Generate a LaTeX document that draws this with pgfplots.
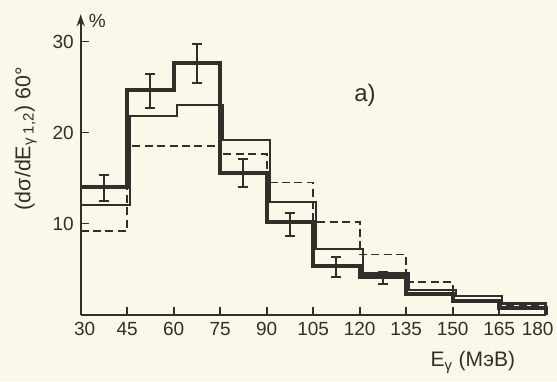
\documentclass[border=0pt]{standalone}
\usepackage{pgfplots}
\pgfplotsset{compat=1.18}
\usepackage{fontspec}
\setmainfont{Liberation Sans}
\usetikzlibrary{arrows.meta}
\definecolor{paper}{RGB}{250,248,232}
\definecolor{ink}{RGB}{50,46,42}
\begin{document}
\begin{tikzpicture}
\fill[paper] (-40.35pt,-33.25pt) rectangle (238.15pt,157.25pt);
\path[use as bounding box] (-40.35pt,-33.25pt) rectangle (238.15pt,157.25pt);
\begin{axis}[
  at={(0pt,0pt)}, anchor=south west,
  scale only axis, width=232.5pt, height=150.15pt,
  xmin=30, xmax=180, ymin=0, ymax=33,
  axis x line*=bottom, axis y line*=left,
  axis line style={ink, line width=1pt},
  y axis line style={-{Stealth[length=6pt,width=4pt]}},
  x axis line style={-},
  tick align=inside, major tick length=4pt,
  tick style={ink, line width=0.9pt},
  xtick={30,45,...,180}, ytick={10,20,30},
  xticklabels={{\rule{4pt}{0pt}30},45,60,75,90,105,120,135,150,165,{180\rule{8pt}{0pt}}},
  ticklabel style={font=\fontsize{9.5}{11}\selectfont, text=ink},
  xticklabel style={yshift=-0.5pt},
  /pgf/number format/assume math mode=true,
  clip=false,
]
% thick histogram
\addplot[const plot, ink, line width=2pt] coordinates {
 (30,14.0) (45,24.7) (60,27.6) (75,15.6) (90,10.2) (105,5.3)
 (120,4.1) (135,2.3) (150,1.5) (165,0.7) (180,0.7) (180,0)};
% thin histogram
\addplot[const plot, ink, line width=1.1pt] coordinates {
 (30,12.0) (46,21.8) (61,23.0) (76,19.2) (91,12.4) (106,7.2)
 (121,4.5) (136,2.7) (151,2.0) (166,1.2) (180,1.2) (180,0)};
% dashed histogram
\addplot[const plot, ink, line width=0.9pt, dash pattern=on 4pt off 2.2pt] coordinates {
 (30,9.2) (45,18.5) (60,18.5) (75,17.6) (90,14.5) (105,10.2)
 (120,6.6) (135,3.6) (150,2.0) (165,1.0) (180,1.0)};
% error bars
\addplot[draw=none, mark=none, error bars/.cd, y dir=both, y explicit,
  error bar style={ink, line width=1pt},
  error mark options={ink, line width=1pt, mark size=2.5pt, rotate=90}] coordinates {
 (37.5,13.9) +- (0,1.4)
 (52.5,24.55) +- (0,1.85)
 (67.5,27.55) +- (0,2.15)
 (82.5,15.55) +- (0,1.55)
 (97.5,9.85) +- (0,1.25)
 (112.5,5.25) +- (0,1.1)
 (127.5,4.05) +- (0,0.65)};
\node[text=ink, font=\fontsize{9.5}{11}\selectfont] at (axis cs:35.4,32.3) {\%};
\node[text=ink, font=\fontsize{12}{14}\selectfont] at (axis cs:121.7,24.1) {a)};
\node[text=ink, rotate=90, font=\fontsize{10.7}{12}\selectfont] at (axis description cs:-0.118,0.586)
  {(dσ/dE\textsubscript{γ 1,2}) 60°};
\node[text=ink, anchor=base, font=\fontsize{10.5}{12}\selectfont] at (axis cs:156.5,-5.74)
  {E\textsubscript{γ} (МэВ)};
\end{axis}
\end{tikzpicture}
\end{document}
